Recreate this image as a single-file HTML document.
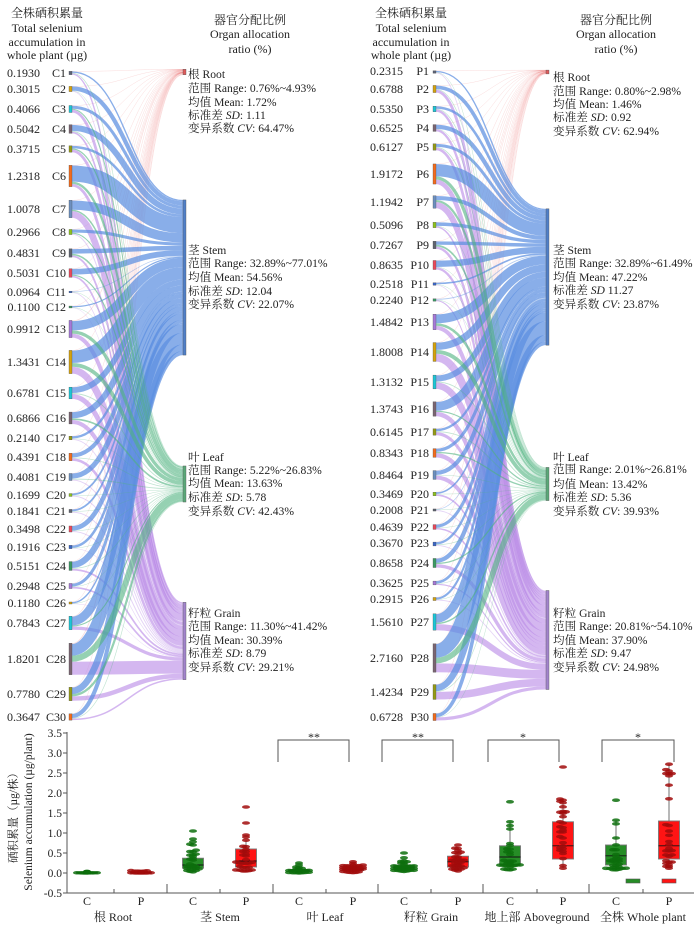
<!DOCTYPE html>
<html><head><meta charset="utf-8">
<style>
html,body{margin:0;padding:0;background:#fff;}
svg{display:block;font-family:"Liberation Serif","Noto Serif CJK SC",serif;}
text{fill:#222;font-family:"Liberation Serif","Noto Serif CJK SC",serif;}
</style></head>
<body>
<svg id="s" width="700" height="927" viewBox="0 0 700 927" xmlns="http://www.w3.org/2000/svg">
<rect x="0" y="0" width="700" height="927" fill="#fff"/>
<g id="links"></g>
<g id="nodes"></g>
<g id="box"></g>

<!-- headers -->
<g font-size="12" text-anchor="middle">
<text x="47" y="17">全株硒积累量</text>
<text x="47" y="32">Total selenium</text>
<text x="47" y="46">accumulation in</text>
<text x="47" y="59">whole plant (µg)</text>
<text x="250" y="24">器官分配比例</text>
<text x="250" y="38">Organ allocation</text>
<text x="250" y="53">ratio (%)</text>
<text x="411" y="17">全株硒积累量</text>
<text x="411" y="32">Total selenium</text>
<text x="411" y="46">accumulation in</text>
<text x="411" y="59">whole plant (µg)</text>
<text x="616" y="24">器官分配比例</text>
<text x="616" y="38">Organ allocation</text>
<text x="616" y="53">ratio (%)</text>
</g>

<!-- left source labels -->
<g font-size="12" text-anchor="end">
<text x="40" y="77">0.1930</text><text x="66" y="77">C1</text>
<text x="40" y="93">0.3015</text><text x="66" y="93">C2</text>
<text x="40" y="113">0.4066</text><text x="66" y="113">C3</text>
<text x="40" y="133">0.5042</text><text x="66" y="133">C4</text>
<text x="40" y="153">0.3715</text><text x="66" y="153">C5</text>
<text x="40" y="180">1.2318</text><text x="66" y="180">C6</text>
<text x="40" y="213">1.0078</text><text x="66" y="213">C7</text>
<text x="40" y="236">0.2966</text><text x="66" y="236">C8</text>
<text x="40" y="257">0.4831</text><text x="66" y="257">C9</text>
<text x="40" y="277">0.5031</text><text x="66" y="277">C10</text>
<text x="40" y="296">0.0964</text><text x="66" y="296">C11</text>
<text x="40" y="311">0.1100</text><text x="66" y="311">C12</text>
<text x="40" y="333">0.9912</text><text x="66" y="333">C13</text>
<text x="40" y="366">1.3431</text><text x="66" y="366">C14</text>
<text x="40" y="397">0.6781</text><text x="66" y="397">C15</text>
<text x="40" y="422">0.6866</text><text x="66" y="422">C16</text>
<text x="40" y="442">0.2140</text><text x="66" y="442">C17</text>
<text x="40" y="461">0.4391</text><text x="66" y="461">C18</text>
<text x="40" y="481">0.4081</text><text x="66" y="481">C19</text>
<text x="40" y="499">0.1699</text><text x="66" y="499">C20</text>
<text x="40" y="515">0.1841</text><text x="66" y="515">C21</text>
<text x="40" y="533">0.3498</text><text x="66" y="533">C22</text>
<text x="40" y="551">0.1916</text><text x="66" y="551">C23</text>
<text x="40" y="570">0.5151</text><text x="66" y="570">C24</text>
<text x="40" y="590">0.2948</text><text x="66" y="590">C25</text>
<text x="40" y="607">0.1180</text><text x="66" y="607">C26</text>
<text x="40" y="627">0.7843</text><text x="66" y="627">C27</text>
<text x="40" y="663">1.8201</text><text x="66" y="663">C28</text>
<text x="40" y="698">0.7780</text><text x="66" y="698">C29</text>
<text x="40" y="721">0.3647</text><text x="66" y="721">C30</text>
</g>

<!-- right source labels -->
<g font-size="12" text-anchor="end">
<text x="403" y="75">0.2315</text><text x="429" y="75">P1</text>
<text x="403" y="93">0.6788</text><text x="429" y="93">P2</text>
<text x="403" y="113">0.5350</text><text x="429" y="113">P3</text>
<text x="403" y="132">0.6525</text><text x="429" y="132">P4</text>
<text x="403" y="151">0.6127</text><text x="429" y="151">P5</text>
<text x="403" y="178">1.9172</text><text x="429" y="178">P6</text>
<text x="403" y="206">1.1942</text><text x="429" y="206">P7</text>
<text x="403" y="229">0.5096</text><text x="429" y="229">P8</text>
<text x="403" y="249">0.7267</text><text x="429" y="249">P9</text>
<text x="403" y="269">0.8635</text><text x="429" y="269">P10</text>
<text x="403" y="288">0.2518</text><text x="429" y="288">P11</text>
<text x="403" y="304">0.2240</text><text x="429" y="304">P12</text>
<text x="403" y="326">1.4842</text><text x="429" y="326">P13</text>
<text x="403" y="356">1.8008</text><text x="429" y="356">P14</text>
<text x="403" y="386">1.3132</text><text x="429" y="386">P15</text>
<text x="403" y="413">1.3743</text><text x="429" y="413">P16</text>
<text x="403" y="436">0.6145</text><text x="429" y="436">P17</text>
<text x="403" y="457">0.8343</text><text x="429" y="457">P18</text>
<text x="403" y="479">0.8464</text><text x="429" y="479">P19</text>
<text x="403" y="498">0.3469</text><text x="429" y="498">P20</text>
<text x="403" y="514">0.2008</text><text x="429" y="514">P21</text>
<text x="403" y="531">0.4639</text><text x="429" y="531">P22</text>
<text x="403" y="547">0.3670</text><text x="429" y="547">P23</text>
<text x="403" y="567">0.8658</text><text x="429" y="567">P24</text>
<text x="403" y="587">0.3625</text><text x="429" y="587">P25</text>
<text x="403" y="603">0.2915</text><text x="429" y="603">P26</text>
<text x="403" y="626">1.5610</text><text x="429" y="626">P27</text>
<text x="403" y="662">2.7160</text><text x="429" y="662">P28</text>
<text x="403" y="696">1.4234</text><text x="429" y="696">P29</text>
<text x="403" y="721">0.6728</text><text x="429" y="721">P30</text>
</g>

<!-- left target labels -->
<g font-size="11.6">
<text x="188" y="78">根 Root</text>
<text x="188" y="92">范围 Range: 0.76%~4.93%</text>
<text x="188" y="106">均值 Mean: 1.72%</text>
<text x="188" y="119">标准差 <tspan font-style="italic">SD</tspan>: 1.11</text>
<text x="188" y="132">变异系数 <tspan font-style="italic">CV</tspan>: 64.47%</text>

<text x="188" y="254">茎 Stem</text>
<text x="188" y="267">范围 Range: 32.89%~77.01%</text>
<text x="188" y="281">均值 Mean: 54.56%</text>
<text x="188" y="295">标准差 <tspan font-style="italic">SD</tspan>: 12.04</text>
<text x="188" y="308">变异系数 <tspan font-style="italic">CV</tspan>: 22.07%</text>

<text x="188" y="461">叶 Leaf</text>
<text x="188" y="474">范围 Range: 5.22%~26.83%</text>
<text x="188" y="487">均值 Mean: 13.63%</text>
<text x="188" y="501">标准差 <tspan font-style="italic">SD</tspan>: 5.78</text>
<text x="188" y="515">变异系数 <tspan font-style="italic">CV</tspan>: 42.43%</text>

<text x="188" y="617">籽粒 Grain</text>
<text x="188" y="630">范围 Range: 11.30%~41.42%</text>
<text x="188" y="644">均值 Mean: 30.39%</text>
<text x="188" y="657">标准差 <tspan font-style="italic">SD</tspan>: 8.79</text>
<text x="188" y="671">变异系数 <tspan font-style="italic">CV</tspan>: 29.21%</text>
</g>

<!-- right target labels -->
<g font-size="11.6">
<text x="553" y="81">根 Root</text>
<text x="553" y="95">范围 Range: 0.80%~2.98%</text>
<text x="553" y="108">均值 Mean: 1.46%</text>
<text x="553" y="121">标准差 <tspan font-style="italic">SD</tspan>: 0.92</text>
<text x="553" y="135">变异系数 <tspan font-style="italic">CV</tspan>: 62.94%</text>

<text x="553" y="254">茎 Stem</text>
<text x="553" y="267">范围 Range: 32.89%~61.49%</text>
<text x="553" y="281">均值 Mean: 47.22%</text>
<text x="553" y="294">标准差 <tspan font-style="italic">SD</tspan> 11.27</text>
<text x="553" y="308">变异系数 <tspan font-style="italic">CV</tspan>: 23.87%</text>

<text x="553" y="461">叶 Leaf</text>
<text x="553" y="473">范围 Range: 2.01%~26.81%</text>
<text x="553" y="488">均值 Mean: 13.42%</text>
<text x="553" y="501">标准差 <tspan font-style="italic">SD</tspan>: 5.36</text>
<text x="553" y="515">变异系数 <tspan font-style="italic">CV</tspan>: 39.93%</text>

<text x="553" y="617">籽粒 Grain</text>
<text x="553" y="630">范围 Range: 20.81%~54.10%</text>
<text x="553" y="644">均值 Mean: 37.90%</text>
<text x="553" y="657">标准差 <tspan font-style="italic">SD</tspan>: 9.47</text>
<text x="553" y="671">变异系数 <tspan font-style="italic">CV</tspan>: 24.98%</text>
</g>

<!-- box plot axes -->
<g stroke="#555" stroke-width="1" fill="none">
<line x1="67" y1="732" x2="67" y2="893.5"/>
<line x1="67" y1="893" x2="694" y2="893"/>
<line x1="63" y1="733" x2="67" y2="733"/>
<line x1="63" y1="753" x2="67" y2="753"/>
<line x1="63" y1="773" x2="67" y2="773"/>
<line x1="63" y1="793" x2="67" y2="793"/>
<line x1="63" y1="813" x2="67" y2="813"/>
<line x1="63" y1="833" x2="67" y2="833"/>
<line x1="63" y1="853" x2="67" y2="853"/>
<line x1="63" y1="873" x2="67" y2="873"/>
<line x1="63" y1="893" x2="67" y2="893"/>
<line x1="167" y1="884" x2="167" y2="893"/>
<line x1="273" y1="884" x2="273" y2="893"/>
<line x1="378" y1="884" x2="378" y2="893"/>
<line x1="483" y1="884" x2="483" y2="893"/>
<line x1="589" y1="884" x2="589" y2="893"/>
<line x1="114" y1="889" x2="114" y2="893"/>
<line x1="220" y1="889" x2="220" y2="893"/>
<line x1="326" y1="889" x2="326" y2="893"/>
<line x1="431" y1="889" x2="431" y2="893"/>
<line x1="537" y1="889" x2="537" y2="893"/>
<line x1="643" y1="889" x2="643" y2="893"/>
<!-- significance brackets -->
<polyline points="278,762 278,740 349,740 349,762"/>
<polyline points="382,762 382,740 453,740 453,762"/>
<polyline points="488,762 488,740 559,740 559,762"/>
<polyline points="602,762 602,740 674,740 674,762"/>
</g>
<g font-size="12" text-anchor="middle">
<text x="314" y="741">**</text>
<text x="418" y="741">**</text>
<text x="523" y="741">*</text>
<text x="638" y="741">*</text>
</g>
<g font-size="11.5" text-anchor="end">
<text x="62" y="737">3.5</text>
<text x="62" y="757">3.0</text>
<text x="62" y="777">2.5</text>
<text x="62" y="797">2.0</text>
<text x="62" y="817">1.5</text>
<text x="62" y="837">1.0</text>
<text x="62" y="857">0.5</text>
<text x="62" y="877">0.0</text>
<text x="62" y="897">-0.5</text>
</g>
<g font-size="11.5" text-anchor="middle">
<text transform="translate(17,815) rotate(-90)">硒积累量（µg/株）</text>
<text transform="translate(32,812) rotate(-90)">Selenium accumulation (µg/plant)</text>
</g>
<g font-size="12" text-anchor="middle">
<text x="87" y="905">C</text><text x="141" y="905">P</text>
<text x="193" y="905">C</text><text x="246" y="905">P</text>
<text x="299" y="905">C</text><text x="353" y="905">P</text>
<text x="404" y="905">C</text><text x="458" y="905">P</text>
<text x="510" y="905">C</text><text x="563" y="905">P</text>
<text x="616" y="905">C</text><text x="669" y="905">P</text>
<text x="113" y="921">根 Root</text>
<text x="220" y="921">茎 Stem</text>
<text x="325" y="921">叶 Leaf</text>
<text x="431" y="921">籽粒 Grain</text>
<text x="537" y="921">地上部 Aboveground</text>
<text x="643" y="921">全株 Whole plant</text>
</g>
</svg>
<script>
(function(){
const NS='http://www.w3.org/2000/svg';
function el(tag,attrs,parent){const e=document.createElementNS(NS,tag);for(const k in attrs)e.setAttribute(k,attrs[k]);parent.appendChild(e);return e;}
let seed=12345;
function rnd(){seed=(seed*16807)%2147483647;return (seed-1)/2147483646;}
const cyc=['#a679d9','#d4a20e','#1cc6d6','#7a6572','#949a16','#f26b1d','#6d8fbf','#8dc21f','#5f6470','#e8495c','#3a66c8','#3c9a64'];
function srcColor(i){return i===0?'#5d6275':cyc[i%12];}
const linkCol=['#e85a5a','#5b8fe0','#4fb37f','#b98be6'];
const linkOp=[0.35,0.72,0.6,0.62];
const nodeCol=['#e05a5a','#4f7fc8','#5aa878','#a283cc'];
const gL=document.getElementById('links'), gN=document.getElementById('nodes');
function sankey(vals,cy,k,xs,xt,centers,fr){
  const n=vals.length, tot=[0,0,0,0];
  for(let i=0;i<n;i++)for(let j=0;j<4;j++)tot[j]+=vals[i]*fr[i][j]*k;
  const tcur=centers.map((c,j)=>c-tot[j]/2), tops=tcur.slice();
  const L=[[],[],[],[]];
  for(let i=0;i<n;i++){
    const h=vals[i]*k; let y=cy[i]-h/2;
    for(let j=0;j<4;j++){const w=vals[i]*fr[i][j]*k;L[j].push([y+w/2,tcur[j]+w/2,w]);y+=w;tcur[j]+=w;}
  }
  const xm=(xs+xt)/2;
  for(const j of [0,3,1,2]){
    for(const [a,b,w] of L[j]){
      const sw=Math.max(w,0.5);
      el('path',{d:'M'+xs+','+a+'C'+xm+','+a+' '+xm+','+b+' '+xt+','+b,fill:'none',stroke:linkCol[j],'stroke-width':sw,'stroke-opacity':w<1?linkOp[j]*0.6:linkOp[j]},gL);
    }
  }
  for(let i=0;i<n;i++){const h=vals[i]*k;el('rect',{x:xs-3,y:cy[i]-h/2,width:3,height:h,fill:srcColor(i),stroke:'#444','stroke-width':0.3},gN);}
  for(let j=0;j<4;j++)el('rect',{x:xt,y:tops[j],width:3,height:tot[j],fill:nodeCol[j],stroke:'#555','stroke-width':0.4},gN);
}
const vC=[0.1930,0.3015,0.4066,0.5042,0.3715,1.2318,1.0078,0.2966,0.4831,0.5031,0.0964,0.1100,0.9912,1.3431,0.6781,0.6866,0.2140,0.4391,0.4081,0.1699,0.1841,0.3498,0.1916,0.5151,0.2948,0.1180,0.7843,1.8201,0.7780,0.3647];
const yC=[73,89,109,129,149,176,209,232,253,273,292,307,329,362,393,418,438,457,477,495,511,529,547,566,586,603,623,659,694,717];
const vP=[0.2315,0.6788,0.5350,0.6525,0.6127,1.9172,1.1942,0.5096,0.7267,0.8635,0.2518,0.2240,1.4842,1.8008,1.3132,1.3743,0.6145,0.8343,0.8464,0.3469,0.2008,0.4639,0.3670,0.8658,0.3625,0.2915,1.5610,2.7160,1.4234,0.6728];
const yP=[72,89,109,128,147,174,202,225,245,265,284,300,322,352,382,409,432,453,475,494,510,527,544,563,583,599,622,658,692,717];
const fC=[],fP=[];
for(let i=0;i<30;i++){const r=0.0076+Math.pow(rnd(),2)*0.04,l=0.05+rnd()*0.16,g=0.12+rnd()*0.30;fC.push([r,1-r-l-g,l,g]);}
for(let i=0;i<30;i++){const r=0.008+Math.pow(rnd(),2)*0.02,l=0.02+rnd()*0.2,g=0.21+rnd()*0.30;fP.push([r,1-r-l-g,l,g]);}
sankey(vC,yC,17.3,72,183,[72,277.5,484,641],fC);
sankey(vP,yP,10.5,436,546,[72,277,484,640],fP);

// box plots
const gB=document.getElementById('box');
function Y(v){return 873-v*40;}
function box(cx,isC,mn,q1,md,q3,wh,out){
  const fill=isC?'#268c26':'#ff1414', dot=isC?'#0d6e0d':'#a10c0c';
  const nin=30-out.length, vals=[];
  const P=[0,0.25,0.5,0.75,1],V=[mn,q1,md,q3,wh];
  const ps=[0,1];for(let t=0;t<nin-2;t++)ps.push(rnd());
  for(const p of ps){let s=0;while(s<3&&p>P[s+1])s++;const f=(p-P[s])/(P[s+1]-P[s]);vals.push(V[s]+f*(V[s+1]-V[s]));}
  for(const o of out)vals.push(o);
  el('line',{x1:cx,y1:Y(q3),x2:cx,y2:Y(wh),stroke:'#888','stroke-width':1.2},gB);
  el('line',{x1:cx,y1:Y(q1),x2:cx,y2:Y(mn),stroke:'#888','stroke-width':1.2},gB);
  el('rect',{x:cx-10.5,y:Y(q3),width:21,height:Math.max(Y(q1)-Y(q3),1.5),fill:fill,stroke:'#777','stroke-width':0.9},gB);
  el('line',{x1:cx-10.5,y1:Y(md),x2:cx+10.5,y2:Y(md),stroke:'#111','stroke-width':0.9},gB);
  const placed=[];const offs=[0,-3,3,-6,6,-8,8,-10,10];
  vals.sort((a,b)=>a-b);
  for(const v of vals){const y=Y(v);let ox=0;
    for(const o of offs){let ok=true;for(const p of placed){if(Math.abs(p[1]-y)<1.6&&Math.abs(p[0]-o)<3){ok=false;break;}}if(ok){ox=o;break;}}
    placed.push([ox,y]);
    el('ellipse',{cx:cx+ox,cy:y,rx:4,ry:1.8,fill:dot,'fill-opacity':0.85},gB);
  }
}
box(87,true,0,0.005,0.01,0.02,0.04,[]);
box(141,false,0,0.008,0.015,0.025,0.06,[]);
box(193,true,0.03,0.12,0.2,0.37,0.57,[0.7,0.72,0.78,0.85,1.05]);
box(246,false,0.05,0.15,0.3,0.6,0.82,[0.9,0.95,1.25,1.65]);
box(299,true,0,0.04,0.06,0.09,0.15,[0.2,0.25]);
box(353,false,0.01,0.06,0.09,0.13,0.2,[0.24,0.28]);
box(404,true,0.04,0.08,0.13,0.2,0.3,[0.38,0.5]);
box(458,false,0.05,0.15,0.28,0.42,0.62,[0.7]);
box(510,true,0.08,0.2,0.4,0.68,1.28,[1.78]);
box(563,false,0.12,0.35,0.68,1.28,1.85,[2.65]);
box(616,true,0.08,0.2,0.43,0.7,1.32,[1.82]);
box(669,false,0.12,0.35,0.68,1.3,2.72,[]);
el('rect',{x:626,y:879,width:14,height:4,fill:'#268c26',stroke:'#555','stroke-width':0.6},gB);
el('rect',{x:662,y:879,width:14,height:4,fill:'#ff1414',stroke:'#555','stroke-width':0.6},gB);
})();
</script>
</body></html>
